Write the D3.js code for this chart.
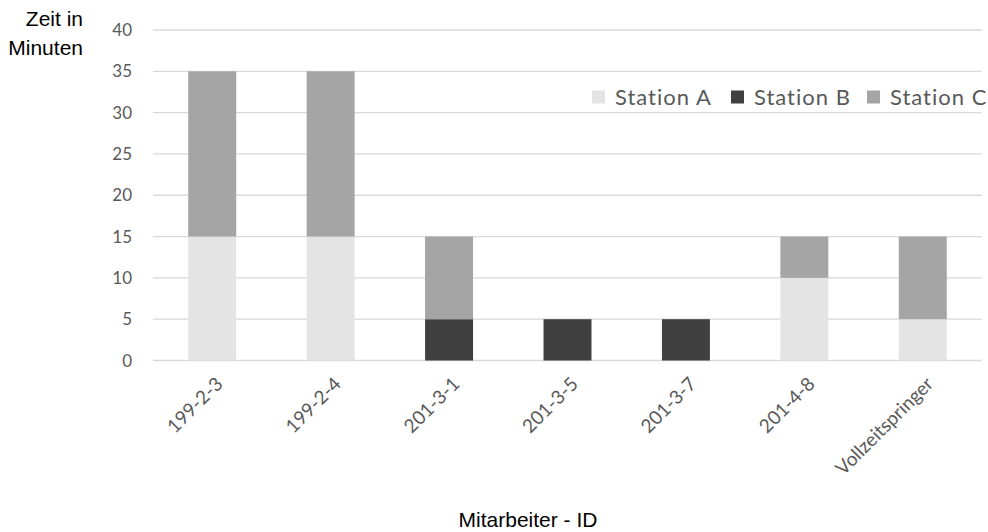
<!DOCTYPE html>
<html><head><meta charset="utf-8">
<script src="https://cdn.jsdelivr.net/npm/d3@7"></script>
<style>body{margin:0;background:#fff}</style>
</head><body>
<svg id="c" width="988" height="532"></svg>
<script>
const categories = ["199-2-3","199-2-4","201-3-1","201-3-5","201-3-7","201-4-8","Vollzeitspringer"];
const stationA = [15,15,0,0,0,10,5];
const stationB = [0,0,5,5,5,0,0];
const stationC = [20,20,10,0,0,5,10];
const seriesNames = ["Station A","Station B","Station C"];
const yTicks = [0,5,10,15,20,25,30,35,40];
const colors = ["#e4e4e4","#404040","#a5a5a5"];

const svg = d3.select("#c");
const x0 = 153, x1 = 982, yTop = 30, yBot = 360.5;
const x = d3.scaleBand().domain(categories).range([x0,x1]).paddingInner(0.595).paddingOuter(0.2975);
const y = d3.scaleLinear().domain([0,40]).range([yBot,yTop]);

// gridlines
svg.append("g").selectAll("line").data(yTicks).join("line")
  .attr("x1",x0).attr("x2",x1).attr("y1",d=>y(d)).attr("y2",d=>y(d))
  .attr("stroke","#d9d9d9").attr("stroke-width",1.3);

// y labels
svg.append("g").selectAll("text").data(yTicks).join("text")
  .attr("x",132).attr("y",d=>y(d)).attr("dy","0.36em").attr("text-anchor","end")
  .attr("font-family","Lato, 'Open Sans', sans-serif").attr("font-size",17).attr("fill","#595959")
  .text(d=>d);

const table = categories.map((c,i)=>({cat:c,"Station A":stationA[i],"Station B":stationB[i],"Station C":stationC[i]}));
const stack = d3.stack().keys(seriesNames)(table);
svg.append("g").selectAll("g").data(stack).join("g").attr("fill",(d,i)=>colors[i])
  .selectAll("rect").data(d=>d).join("rect")
  .attr("x",d=>x(d.data.cat)).attr("width",x.bandwidth())
  .attr("y",d=>y(d[1])).attr("height",d=>y(d[0])-y(d[1]));

// x labels
svg.append("g").selectAll("text").data(categories).join("text")
  .attr("transform",d=>`translate(${x(d)+x.bandwidth()/2+7},${yBot+20}) rotate(-45)`)
  .attr("text-anchor","end").attr("dy","0.35em")
  .attr("font-family","Lato, 'Open Sans', sans-serif").attr("font-size",19).attr("fill","#595959")
  .text(d=>d);

// axis titles
const at = {"font-family":"'Liberation Sans', Arial, sans-serif","font-size":21,"fill":"#000"};
function applyAttrs(sel,o){for(const k in o) sel.attr(k,o[k]); return sel;}
applyAttrs(svg.append("text").attr("x",83).attr("y",26).attr("text-anchor","end").text("Zeit in"),at);
applyAttrs(svg.append("text").attr("x",83).attr("y",55).attr("text-anchor","end").text("Minuten"),at);
applyAttrs(svg.append("text").attr("x",528).attr("y",527).attr("text-anchor","middle").text("Mitarbeiter - ID"),at);

// legend
const legX = [592,731,867];
const leg = svg.append("g").selectAll("g").data(seriesNames).join("g")
  .attr("transform",(d,i)=>`translate(${legX[i]},97)`);
leg.append("rect").attr("x",0).attr("y",-6.5).attr("width",13).attr("height",13).attr("fill",(d,i)=>colors[i]);
leg.append("text").attr("x",23).attr("dy","0.36em")
  .attr("font-family","Lato, 'Open Sans', sans-serif").attr("font-size",22).attr("fill","#595959")
  .attr("letter-spacing","1").text(d=>d);
</script>
</body></html>
